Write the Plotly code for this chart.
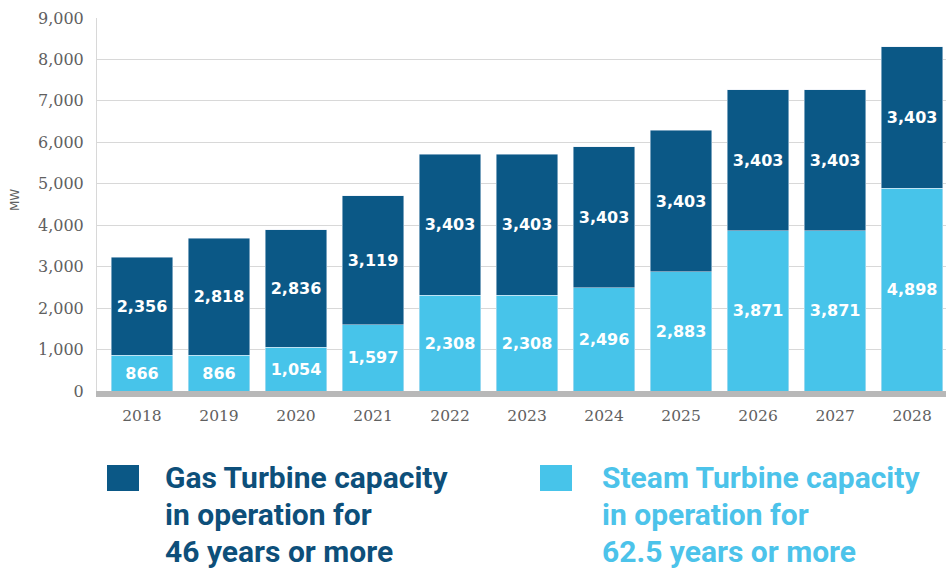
import plotly.graph_objects as go

# Capacity in operation beyond age thresholds (MW)
years = ["2018", "2019", "2020", "2021", "2022", "2023", "2024", "2025", "2026", "2027", "2028"]
steam_mw = [866, 866, 1054, 1597, 2308, 2308, 2496, 2883, 3871, 3871, 4898]
gas_mw = [2356, 2818, 2836, 3119, 3403, 3403, 3403, 3403, 3403, 3403, 3403]
y_ticks = [0, 1000, 2000, 3000, 4000, 5000, 6000, 7000, 8000, 9000]

DARK = "#0b5886"
LIGHT = "#47c4ea"
DARK_TEXT = "#0d4f7a"
LIGHT_TEXT = "#4cc3ea"
AXIS_TEXT = "#606060"

W, H = 946, 575
ML, MR, MT, MB = 97, 0, 18, 184


def fmt(v):
    return f"{v:,}"


label_font = dict(family="DejaVu Sans", size=16, color="white", weight="bold")

fig = go.Figure()
fig.add_trace(go.Bar(
    x=years, y=steam_mw, name="Steam Turbine", marker_color=LIGHT,
    text=[fmt(v) for v in steam_mw], textposition="inside",
    insidetextanchor="middle", textangle=0, insidetextfont=label_font,
))
fig.add_trace(go.Bar(
    x=years, y=gas_mw, name="Gas Turbine", marker_color=DARK,
    text=[fmt(v) for v in gas_mw], textposition="inside",
    insidetextanchor="middle", textangle=0, insidetextfont=label_font,
))

fig.update_layout(
    width=W, height=H, barmode="stack", bargap=0.2, showlegend=False,
    plot_bgcolor="white", paper_bgcolor="white",
    margin=dict(l=ML, r=MR, t=MT, b=MB),
    uniformtext=dict(minsize=16, mode="show"),
)
fig.update_xaxes(
    type="category", range=[-0.584, 10.44], showgrid=False,
    showline=True, linecolor="#b8b8b8", linewidth=6,
    ticks="", ticklabelstandoff=5,
    tickfont=dict(family="DejaVu Serif", size=15.5, color=AXIS_TEXT),
)
fig.update_yaxes(
    range=[0, 9000], tickvals=y_ticks, ticktext=[fmt(v) for v in y_ticks],
    showgrid=True, gridcolor="#d8d8d8", gridwidth=1, zeroline=False,
    showline=True, linecolor="#d8d8d8", linewidth=1,
    ticks="", ticklabelstandoff=9,
    tickfont=dict(family="DejaVu Serif", size=16, color=AXIS_TEXT),
)

PW = W - ML - MR
PH = H - MT - MB


def px_x(p):
    return (p - ML) / PW


def px_y(p):
    return (H - MB - p) / PH


# axis title
fig.add_annotation(
    text="MW", xref="paper", yref="paper", x=px_x(15), y=px_y(200),
    showarrow=False, textangle=-90, xanchor="center", yanchor="middle",
    font=dict(family="DejaVu Sans", size=12, color=AXIS_TEXT),
)

# legend drawn below the chart
legend_items = [
    (107, 163, DARK, DARK_TEXT,
     ["Gas Turbine capacity", "in operation for", "46 years or more"]),
    (540, 600, LIGHT, LIGHT_TEXT,
     ["Steam Turbine capacity", "in operation for", "62.5 years or more"]),
]
for sq_x, tx_x, fill, tcol, lines in legend_items:
    fig.add_shape(
        type="rect", xref="paper", yref="paper",
        x0=px_x(sq_x), x1=px_x(sq_x + 32), y0=px_y(465), y1=px_y(491),
        fillcolor=fill, line=dict(width=0),
    )
    for i, line in enumerate(lines):
        fig.add_annotation(
            text=line, xref="paper", yref="paper",
            x=px_x(tx_x), y=px_y(477 + 37 * i),
            xanchor="left", yanchor="middle", showarrow=False,
            font=dict(family="Roboto", size=30, color=tcol, weight="bold"),
        )

fig.write_html("out.html")
